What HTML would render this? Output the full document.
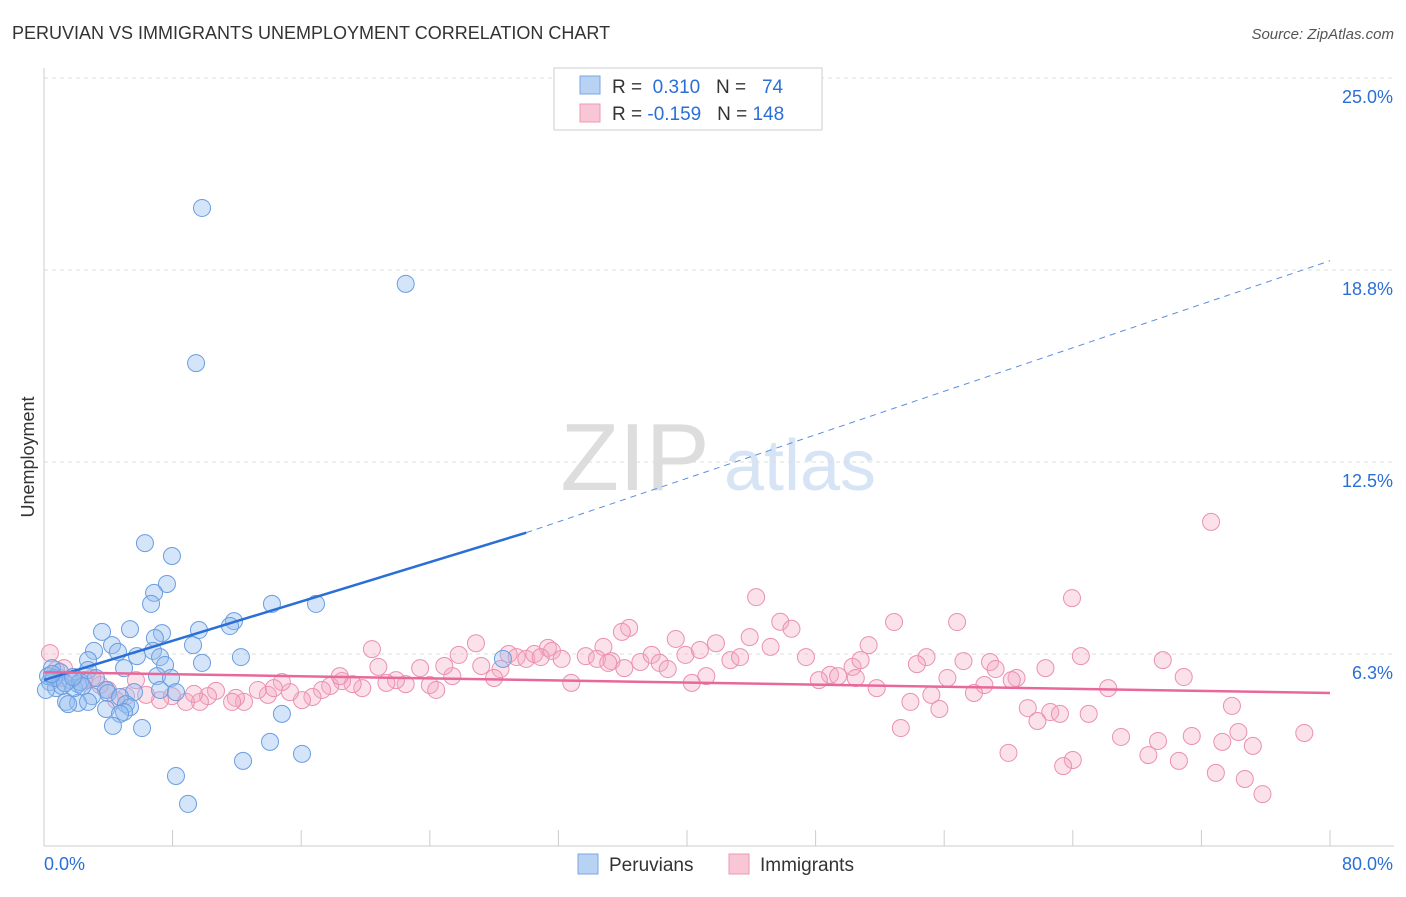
<!DOCTYPE html>
<html><head><meta charset="utf-8"><style>
body{margin:0;background:#fff;font-family:"Liberation Sans",sans-serif;}
svg text{font-family:"Liberation Sans",sans-serif;}
</style></head><body>
<svg id="chart" width="1406" height="892">
<text x="12" y="39" font-size="18" fill="#333">PERUVIAN VS IMMIGRANTS UNEMPLOYMENT CORRELATION CHART</text>
<text x="1394" y="39" font-size="15" fill="#555" font-style="italic" text-anchor="end">Source: ZipAtlas.com</text>
<text x="34" y="457" font-size="18" fill="#333" transform="rotate(-90 34 457)" text-anchor="middle">Unemployment</text>
<g><text x="635" y="490" font-size="96" fill="#ddd" font-family="Liberation Serif" text-anchor="middle">ZIP</text><text x="800" y="490" font-size="72" fill="#d6e4f5" text-anchor="middle">atlas</text></g>
<g id="grid"></g><g id="axes"></g><g id="pts"></g><g id="lines"></g>
<g>
<rect x="554" y="68" width="268" height="62" fill="#fff" stroke="#ccc"/>
<rect x="580" y="76" width="20" height="18" fill="#b8d2f4" stroke="#7aa6e0"/>
<rect x="580" y="104" width="20" height="18" fill="#f9c6d6" stroke="#ec9ab6"/>
<text x="612" y="93" font-size="19" fill="#333">R = <tspan fill="#2a6fd6">&#160;0.310</tspan>&#160;&#160;&#160;N = <tspan fill="#2a6fd6">&#160;&#160;74</tspan></text>
<text x="612" y="120" font-size="19" fill="#333">R = <tspan fill="#2a6fd6">-0.159</tspan>&#160;&#160;&#160;N = <tspan fill="#2a6fd6">148</tspan></text>
</g>
<g>
<rect x="578" y="854" width="20" height="20" fill="#b8d2f4" stroke="#7aa6e0"/>
<text x="609" y="871" font-size="19" fill="#333">Peruvians</text>
<rect x="729" y="854" width="20" height="20" fill="#f9c6d6" stroke="#ec9ab6"/>
<text x="760" y="871" font-size="19" fill="#333">Immigrants</text>
</g>
</svg>
<script>
const yTicks=[6.25,12.5,18.75,25];
const yTickLabels=["6.3%","12.5%","18.8%","25.0%"];
const xTicks=[0,8,16,24,32,40,48,56,64,72,80];
const blueX=[9.83,22.5,9.46,6.28,7.96,7.65,6.85,6.66,14.18,16.92,11.82,11.57,5.35,3.61,7.34,9.64,6.9,4.23,9.27,3.11,6.78,4.6,12.25,5.78,7.22,2.74,9.83,7.53,4.98,0.5,1.0,2.74,7.03,7.9,3.23,1.62,0.37,2.12,3.86,5.6,7.22,8.21,3.98,2.99,4.73,1.37,2.12,2.74,5.1,1.5,5.35,3.86,4.98,4.73,14.8,4.29,6.1,14.06,16.05,12.38,8.21,8.96,28.55,0.25,0.75,1.12,1.87,2.24,0.62,0.12,1.3,0.5,2.4,1.8];
const blueY=[20.77,18.3,15.72,9.86,9.44,8.53,8.24,7.88,7.88,7.88,7.32,7.16,7.06,6.97,6.93,7.03,6.77,6.54,6.54,6.35,6.35,6.32,6.15,6.18,6.15,6.05,5.96,5.89,5.79,5.79,5.66,5.73,5.53,5.47,5.47,5.4,5.34,5.27,5.08,5.01,5.08,5.01,4.98,4.88,4.85,4.69,4.66,4.69,4.62,4.62,4.52,4.46,4.36,4.3,4.3,3.91,3.84,3.39,3.0,2.77,2.28,1.37,6.09,5.53,5.14,5.21,5.14,5.34,5.47,5.08,5.3,5.6,5.2,5.5];
const pinkX=[72.6,44.3,63.95,52.88,56.8,45.8,46.5,36.4,35.95,26.87,39.3,41.8,43.9,51.3,45.2,31.35,31.6,34.8,20.4,0.37,25.8,28.9,29.4,30.0,30.5,30.9,32.2,33.7,34.4,35.3,37.1,37.8,38.3,39.9,40.8,42.7,43.3,47.4,48.9,48.2,49.4,50.3,50.5,50.8,54.9,54.3,57.2,58.85,59.2,64.5,62.3,69.6,70.9,60.5,60.2,58.5,56.2,51.8,55.2,53.9,55.7,66.2,57.85,61.2,62.6,61.8,64.99,73.9,53.3,67.0,69.3,71.4,73.3,74.3,75.2,78.4,60.0,68.7,70.6,64.0,63.4,72.9,74.7,75.8,32.8,35.1,40.3,41.2,38.8,36.1,28.4,28.0,27.2,25.4,24.9,23.4,22.5,21.9,20.8,21.3,19.8,19.2,18.54,17.8,17.3,16.7,16.05,15.3,14.8,13.93,14.3,13.3,12.44,11.94,11.7,10.7,10.2,9.7,8.83,9.33,7.96,7.22,6.35,5.72,5.1,4.48,3.98,3.48,2.99,2.49,1.87,1.24,0.75,1.0,24.0,24.4,18.4,63.2];
const pinkY=[10.55,8.1,8.07,7.29,7.29,7.3,7.07,7.1,6.97,6.6,6.74,6.6,6.8,6.54,6.48,6.45,6.35,6.48,6.41,6.28,6.22,6.25,6.15,6.09,6.25,6.15,6.09,6.18,6.09,6.02,5.99,6.22,5.96,6.22,6.38,6.05,6.15,6.15,5.57,5.4,5.53,5.83,5.47,6.05,6.15,5.92,6.02,5.99,5.76,6.18,5.79,6.05,5.5,5.47,5.4,5.24,5.47,5.14,4.92,4.69,4.46,5.14,4.98,4.49,4.36,4.07,4.3,4.56,3.84,3.55,3.42,3.58,3.39,3.71,3.26,3.68,3.03,2.96,2.77,2.8,2.6,2.38,2.18,1.69,5.31,5.96,5.31,5.53,5.76,5.79,5.76,5.47,5.86,5.53,5.86,5.79,5.27,5.4,5.83,5.31,5.14,5.27,5.37,5.21,5.08,4.85,4.75,5.01,5.34,4.92,5.14,5.08,4.69,4.82,4.69,5.05,4.88,4.69,4.69,4.95,4.88,4.75,4.92,5.4,4.88,4.75,5.08,5.24,5.47,5.4,5.5,5.79,5.73,5.47,5.24,5.08,5.53,4.3];
const blueTrend=[[0,5.4],[30,10.2],[80,19.05]];
const pinkTrend=[[0,5.66],[80,4.98]];
const ns="http://www.w3.org/2000/svg";
const X0=44,X1=1330,Y0=846,YS=192/6.25;
const sx=v=>X0+(v/80)*(X1-X0);
const sy=v=>Y0-v*YS;
function mk(t,a,p){const e=document.createElementNS(ns,t);for(const k in a)e.setAttribute(k,a[k]);p.appendChild(e);return e;}
const grid=document.getElementById('grid'),axes=document.getElementById('axes'),pts=document.getElementById('pts'),lines=document.getElementById('lines');
yTicks.forEach((t,i)=>{
 const l=mk('line',{x1:X0,x2:1394,y1:sy(t),y2:sy(t),stroke:'#ddd','stroke-dasharray':'4,4'},grid);
 
 
 const tx=mk('text',{x:1393,y:sy(t)+25,'font-size':18,fill:'#2a6fd6','text-anchor':'end'},grid);
 tx.textContent=yTickLabels[i];
 
 
});
const ya=mk('line',{x1:X0,x2:X0,y1:68,y2:Y0,stroke:'#ccc'},axes);


const xa=mk('line',{x1:X0,x2:1394,y1:Y0,y2:Y0,stroke:'#ccc'},axes);


xTicks.forEach(t=>{
 const l=mk('line',{x1:sx(t),x2:sx(t),y1:Y0-16,y2:Y0,stroke:'#ccc'},axes);
 
 
});
const xl0=mk('text',{x:44,y:870,'font-size':18,fill:'#2a6fd6'},axes);xl0.textContent='0.0%';


const xl1=mk('text',{x:1393,y:870,'font-size':18,fill:'#2a6fd6','text-anchor':'end'},axes);xl1.textContent='80.0%';


pinkX.forEach((x,i)=>{
 const c=mk('circle',{cx:sx(x),cy:sy(pinkY[i]),r:8.5,fill:'rgba(244,170,196,0.35)',stroke:'#eb90b0','stroke-width':1},pts);
 
 
});
blueX.forEach((x,i)=>{
 const c=mk('circle',{cx:sx(x),cy:sy(blueY[i]),r:8.5,fill:'rgba(150,190,240,0.4)',stroke:'#6a9de0','stroke-width':1},pts);
 
 
});
const b1=mk('line',{x1:sx(blueTrend[0][0]),y1:sy(blueTrend[0][1]),x2:sx(blueTrend[1][0]),y2:sy(blueTrend[1][1]),stroke:'#2a6fd6','stroke-width':2.5},lines);


const b2=mk('line',{x1:sx(blueTrend[1][0]),y1:sy(blueTrend[1][1]),x2:sx(blueTrend[2][0]),y2:sy(blueTrend[2][1]),stroke:'#5a8fdc','stroke-width':1,'stroke-dasharray':'6,5'},lines);


const p1=mk('line',{x1:sx(pinkTrend[0][0]),y1:sy(pinkTrend[0][1]),x2:sx(pinkTrend[1][0]),y2:sy(pinkTrend[1][1]),stroke:'#e8689a','stroke-width':2.5},lines);


</script>
</body></html>
